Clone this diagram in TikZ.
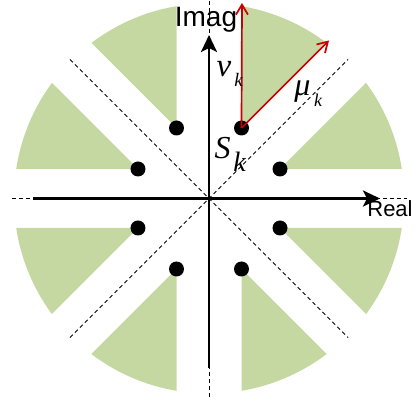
\documentclass[tikz,border=0pt]{standalone}
\usepackage{fontspec}
\setmainfont{Liberation Serif}
\newfontfamily\labfont{Liberation Sans}
\usetikzlibrary{arrows.meta}
\definecolor{wedgegreen}{RGB}{197,216,162}
\definecolor{vecred}{RGB}{200,0,0}
\begin{document}
\begin{tikzpicture}[x=1pt,y=1pt,
  wedge/.style={fill=wedgegreen},
  gapline/.style={line width=0.8pt, dash pattern=on 4pt off 3pt},
  axisline/.style={line width=2.8pt, -{Stealth[length=17pt,width=16pt,inset=4pt]}},
  vec/.style={vecred, line width=1.7pt, -{Straight Barb[length=10pt,width=12pt]}},
  dotnode/.style={circle, fill=black, inner sep=0pt, minimum size=15pt},
  axlabel/.style={inner sep=0pt, anchor=base},
  mathlab/.style={inner sep=0pt, anchor=base, font=\itshape}]
\useasboundingbox (-209,-204.5) rectangle (208,198.5);
\coordinate (O) at (0,0);
% green wedges
\begin{scope}
  \clip (O) circle (195pt);
  \foreach \sx/\sy in {1/1,-1/1,1/-1,-1/-1}{
    \begin{scope}[xscale=\sx,yscale=\sy]
      \fill[wedge] (32.5,70.5) -- (32.5,370.5) -- (332.5,370.5) -- cycle;
      \fill[wedge] (71,29.5) -- (371,29.5) -- (371,329.5) -- cycle;
    \end{scope}
  }
\end{scope}
% dashed guide lines
\coordinate (dUL) at (-139,139);
\coordinate (dLR) at (139,-139);
\coordinate (dUR) at (139,139);
\coordinate (dLL) at (-139,-139);
\coordinate (xLL) at (-197,0);
\coordinate (xRR) at (198,0);
\coordinate (yBB) at (0,-198.5);
\coordinate (yTT) at (0,198);
\draw[gapline] (dUL) -- (dLR);
\draw[gapline] (dLL) -- (dUR);
\draw[gapline] (xLL) -- (xRR);
\draw[gapline] (yBB) -- (yTT);
% axes
\coordinate (xL) at (-176,0);
\coordinate (xR) at (171,0);
\coordinate (yB) at (0,-169.5);
\coordinate (yT) at (0,163.5);
\draw[axisline] (xL) -- (xR);
\draw[axisline] (yB) -- (yT);
% dots
\node[dotnode] (s1) at (32.5,70.5) {};
\node[dotnode] (s2) at (71,29.5) {};
\node[dotnode] (s3) at (-32.5,70.5) {};
\node[dotnode] (s4) at (-71,29.5) {};
\node[dotnode] (s5) at (-71,-29.5) {};
\node[dotnode] (s6) at (-32.5,-70.5) {};
\node[dotnode] (s7) at (32.5,-70.5) {};
\node[dotnode] (s8) at (71,-29.5) {};
% red vectors
\coordinate (nuEnd) at (33,195.5);
\coordinate (muEnd) at (120,158);
\draw[vec] (s1.center) -- (nuEnd);
\draw[vec] (s1.center) -- (muEnd);
% labels
\node[axlabel, font={\labfont\fontsize{28}{30}\selectfont}] (imag) at (-3,171.5) {Imag};
\node[axlabel, font={\labfont\fontsize{22}{24}\selectfont}] (real) at (181,-18.5) {Real};
\node[mathlab, font={\itshape\fontsize{33}{35}\selectfont}] (nu) at (15,121.5) {ν};
\node[mathlab, font={\itshape\fontsize{19}{21}\selectfont}] (nuk) at (29.5,111.5) {k};
\node[mathlab, font={\itshape\fontsize{32}{34}\selectfont}] (mu) at (93.5,102.5) {μ};
\node[mathlab, font={\itshape\fontsize{18}{20}\selectfont}] (muk) at (109,91.5) {k};
\node[mathlab, font={\itshape\fontsize{32}{34}\selectfont}] (S) at (13.5,39.5) {S};
\node[mathlab, font={\itshape\fontsize{28}{30}\selectfont}] (Sk) at (30.5,26.5) {k};
\end{tikzpicture}
\end{document}
